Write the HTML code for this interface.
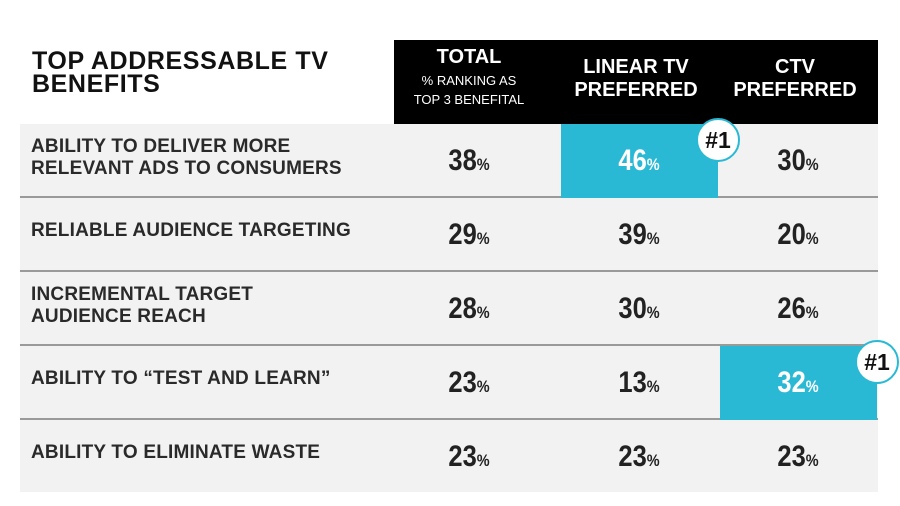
<!DOCTYPE html>
<html><head><meta charset="utf-8"><style>
body{margin:0;background:#fff;width:900px;height:506px;overflow:hidden;position:relative;font-family:"Liberation Sans",sans-serif;font-weight:bold;color:#222}
.a{position:absolute}
.title{left:32px;top:50px;font-size:25px;line-height:23px;color:#111;letter-spacing:0.6px;font-weight:900}
.hdr{left:394px;top:40px;width:484px;height:84px;background:#000}
.hc{position:absolute;color:#fff;text-align:center;font-size:20px;line-height:23px}
.row{left:20px;width:858px;height:72px;background:#f2f2f2;border-bottom:2px solid #9a9a9a}
.lab{position:absolute;left:11px;font-size:19px;line-height:22px;color:#2a2a2a;letter-spacing:0.2px}
.v{position:absolute;width:150px;text-align:center;font-size:30px;top:20px;transform:scaleX(0.85)}
.v small{font-size:17px}
.hl{position:absolute;background:#29b9d5;height:74px;width:157px;top:0}
.badge{position:absolute;width:40px;height:40px;border-radius:50%;background:#fff;border:2px solid #29b9d5;font-size:23px;line-height:40px;text-align:center;color:#111}
</style></head><body>
<div class="a title">TOP ADDRESSABLE TV<br>BENEFITS</div>
<div class="a hdr">
<div class="hc" style="left:0;width:150px;top:6px">TOTAL<div style="font-size:13px;line-height:19px;font-weight:normal;margin-top:2px">% RANKING AS<br>TOP 3 BENEFITAL</div></div>
<div class="hc" style="left:167px;width:150px;top:16px">LINEAR TV<br>PREFERRED</div>
<div class="hc" style="left:326px;width:150px;top:16px">CTV<br>PREFERRED</div>
</div>
<div id="rows"></div>
<script>
const labels=[["ABILITY TO DELIVER MORE","RELEVANT ADS TO CONSUMERS"],["RELIABLE AUDIENCE TARGETING"],["INCREMENTAL TARGET","AUDIENCE REACH"],["ABILITY TO “TEST AND LEARN”"],["ABILITY TO ELIMINATE WASTE"]];
const totalVals=[38,29,28,23,23];
const linearVals=[46,39,30,13,23];
const ctvVals=[30,20,26,32,23];
const highlightCol=[1,-1,-1,2,-1];
const colLeft=[394,561,720];
const root=document.getElementById('rows');
labels.forEach((lab,i)=>{
  const r=document.createElement('div');
  r.className='a row';
  r.style.top=(124+i*74)+'px';
  if(i==labels.length-1)r.style.borderBottom='none';
  
  
  const l=document.createElement('div');l.className='lab';
  l.style.top=(lab.length>1?12:22)+'px';
  l.innerHTML=lab.join('<br>');
  
  
  r.appendChild(l);
  const vals=[totalVals[i],linearVals[i],ctvVals[i]];
  const hlCol=highlightCol[i];
  if(hlCol>0){const h=document.createElement('div');h.className='hl';h.style.left=(colLeft[hlCol]-20)+'px';
    
    
    r.appendChild(h);}
  vals.forEach((v,j)=>{
    const d=document.createElement('div');d.className='v';
    d.style.left=(colLeft[j]-20+(j==0?0:3))+'px';
    if(j==hlCol)d.style.color='#fff';
    d.innerHTML=v+'<small>%</small>';
    
    
    r.appendChild(d);
  });
  root.appendChild(r);
  if(hlCol>0){const b=document.createElement('div');b.className='a badge';
    b.textContent='#1';
    b.style.left=(colLeft[hlCol]+157-22)+'px';
    b.style.top=(124+i*74-6)+'px';
    
    
    document.body.appendChild(b);}
});
</script>
</body></html>
